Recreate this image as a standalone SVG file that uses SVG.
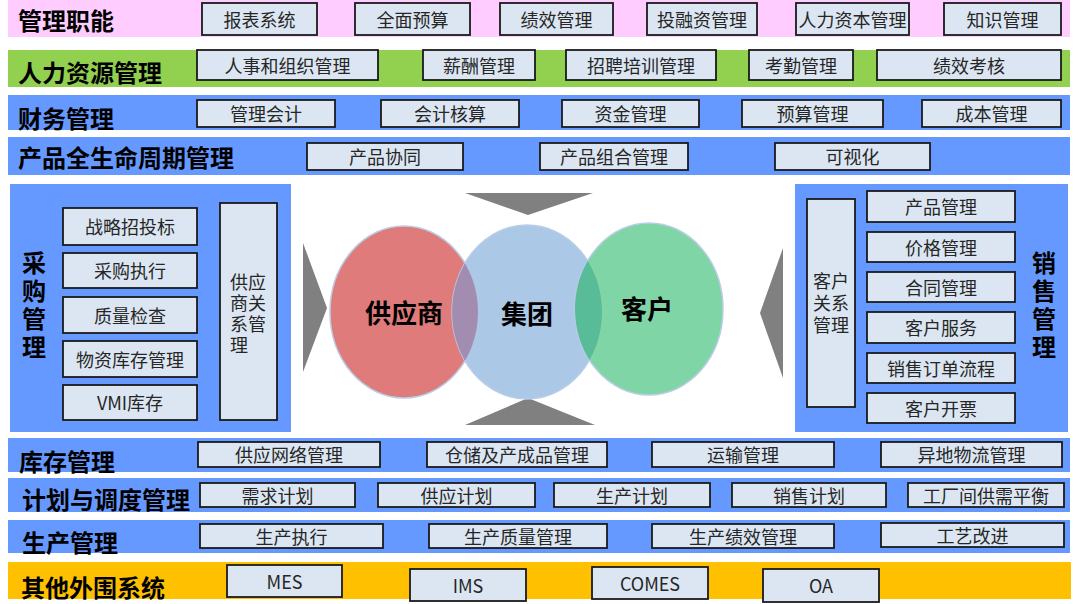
<svg xmlns="http://www.w3.org/2000/svg" width="1080" height="604" viewBox="0 0 1080 604">
<defs>
<style>
.pink{fill:#FFCCFF}
.green{fill:#92D050}
.blue{fill:#6699FF}
.yellow{fill:#FFC000}
.box{fill:#DCE6F2;stroke:#1a1a1a;stroke-width:1.8}
.t{font-family:"Noto Sans CJK SC","Microsoft YaHei",sans-serif;font-size:18px;fill:#262626;text-anchor:middle;dominant-baseline:central}
.tl{font-family:"Noto Sans CJK SC","Microsoft YaHei",sans-serif;font-size:18px;fill:#262626;text-anchor:start;dominant-baseline:central}
.title{font-family:"Noto Sans CJK SC","Microsoft YaHei",sans-serif;font-size:24px;font-weight:700;fill:#000;dominant-baseline:central}
.vt{font-family:"Noto Sans CJK SC","Microsoft YaHei",sans-serif;font-size:24px;font-weight:700;fill:#000;writing-mode:vertical-rl;text-orientation:upright;letter-spacing:4px}
.big{font-family:"Noto Sans CJK SC","Microsoft YaHei",sans-serif;font-size:26px;font-weight:700;fill:#000;text-anchor:middle;dominant-baseline:central}
.tri{fill:#808080}
</style>
<clipPath id="clipBlue"><ellipse cx="527" cy="312" rx="75" ry="87"/></clipPath>
</defs>
<rect width="1080" height="604" fill="#FFFFFF"/>

<!-- Row 1 管理职能 -->
<g id="row-mgmt">
<rect class="pink" x="8" y="0" width="1062" height="37"/>
<text class="title" x="18" y="19">管理职能</text>
<g id="n-baobiao"><rect class="box" x="202" y="3" width="115" height="32"/><text class="t" x="259.5" y="18.5">报表系统</text></g>
<g id="n-quanmian"><rect class="box" x="355" y="3" width="115" height="32"/><text class="t" x="412.5" y="18.5">全面预算</text></g>
<g id="n-jixiao"><rect class="box" x="500" y="3" width="113" height="32"/><text class="t" x="556.5" y="18.5">绩效管理</text></g>
<g id="n-tourong"><rect class="box" x="647" y="3" width="110" height="32"/><text class="t" x="702" y="18.5">投融资管理</text></g>
<g id="n-renliziben"><rect class="box" x="796" y="3" width="113" height="32"/><text class="t" x="852.5" y="18.5">人力资本管理</text></g>
<g id="n-zhishi"><rect class="box" x="944" y="3" width="117" height="32"/><text class="t" x="1002.5" y="18.5">知识管理</text></g>
</g>

<!-- Row 2 人力资源管理 -->
<g id="row-hr">
<rect class="green" x="8" y="50" width="1062" height="37"/>
<text class="title" x="18" y="71">人力资源管理</text>
<g id="n-renshi"><rect class="box" x="197" y="50" width="181" height="30"/><text class="t" x="287.5" y="64.5">人事和组织管理</text></g>
<g id="n-xinchou"><rect class="box" x="423" y="50" width="112" height="30"/><text class="t" x="479" y="64.5">薪酬管理</text></g>
<g id="n-zhaopin"><rect class="box" x="566" y="50" width="150" height="30"/><text class="t" x="641" y="64.5">招聘培训管理</text></g>
<g id="n-kaoqin"><rect class="box" x="749" y="50" width="104" height="30"/><text class="t" x="801" y="64.5">考勤管理</text></g>
<g id="n-jixiaokaohe"><rect class="box" x="877" y="50" width="184" height="30"/><text class="t" x="969" y="64.5">绩效考核</text></g>
</g>

<!-- Row 3 财务管理 -->
<g id="row-fin">
<rect class="blue" x="8" y="95" width="1062" height="35"/>
<text class="title" x="18" y="117">财务管理</text>
<g id="n-guanlikuaiji"><rect class="box" x="197" y="100" width="138" height="27"/><text class="t" x="266" y="113">管理会计</text></g>
<g id="n-kuaijihesuan"><rect class="box" x="381" y="100" width="138" height="27"/><text class="t" x="450" y="113">会计核算</text></g>
<g id="n-zijin"><rect class="box" x="562" y="100" width="137" height="27"/><text class="t" x="630.5" y="113">资金管理</text></g>
<g id="n-yusuan"><rect class="box" x="742" y="100" width="141" height="27"/><text class="t" x="812.5" y="113">预算管理</text></g>
<g id="n-chengben"><rect class="box" x="922" y="100" width="139" height="27"/><text class="t" x="991.5" y="113">成本管理</text></g>
</g>

<!-- Row 4 产品全生命周期管理 -->
<g id="row-plm">
<rect class="blue" x="8" y="137" width="1062" height="38"/>
<text class="title" x="18" y="156">产品全生命周期管理</text>
<g id="n-xietong"><rect class="box" x="307" y="143" width="156" height="27"/><text class="t" x="385" y="156">产品协同</text></g>
<g id="n-zuhe"><rect class="box" x="540" y="143" width="148" height="27"/><text class="t" x="614" y="156">产品组合管理</text></g>
<g id="n-keshihua"><rect class="box" x="775" y="143" width="155" height="27"/><text class="t" x="852.5" y="156">可视化</text></g>
</g>

<!-- Left panel 采购管理 -->
<g id="panel-purchase">
<rect class="blue" x="10" y="184" width="281" height="248"/>
<text class="vt" x="34" y="251">采购管理</text>
<g id="n-zhanlue"><rect class="box" x="63" y="208" width="134" height="37"/><text class="t" x="130" y="226">战略招投标</text></g>
<g id="n-caigouzhixing"><rect class="box" x="63" y="253" width="134" height="35"/><text class="t" x="130" y="270">采购执行</text></g>
<g id="n-zhiliang"><rect class="box" x="63" y="297" width="134" height="36"/><text class="t" x="130" y="314.5">质量检查</text></g>
<g id="n-wuzi"><rect class="box" x="63" y="341" width="134" height="36"/><text class="t" x="130" y="358.5">物资库存管理</text></g>
<g id="n-vmi"><rect class="box" x="63" y="385" width="134" height="35"/><text class="t" x="130" y="402">VMI库存</text></g>
<g id="n-gongyingshang"><rect class="box" x="220" y="203" width="57" height="217"/>
<text class="tl"><tspan x="230" y="281">供应</tspan><tspan x="230" y="302">商关</tspan><tspan x="230" y="323">系管</tspan><tspan x="230" y="344">理</tspan></text></g>
</g>

<!-- Right panel 销售管理 -->
<g id="panel-sales">
<rect class="blue" x="795" y="184" width="273" height="248"/>
<g id="n-kehuguanxi"><rect class="box" x="807" y="199" width="48" height="208"/>
<text class="t"><tspan x="831" y="280">客户</tspan><tspan x="831" y="302">关系</tspan><tspan x="831" y="324">管理</tspan></text></g>
<g id="n-chanpin"><rect class="box" x="867" y="191" width="148" height="31"/><text class="t" x="941" y="206">产品管理</text></g>
<g id="n-jiage"><rect class="box" x="867" y="232" width="148" height="30"/><text class="t" x="941" y="246.5">价格管理</text></g>
<g id="n-hetong"><rect class="box" x="867" y="272" width="148" height="30"/><text class="t" x="941" y="286.5">合同管理</text></g>
<g id="n-kehufuwu"><rect class="box" x="867" y="312" width="148" height="31"/><text class="t" x="941" y="327">客户服务</text></g>
<g id="n-dingdan"><rect class="box" x="867" y="353" width="148" height="30"/><text class="t" x="941" y="367.5">销售订单流程</text></g>
<g id="n-kaipiao"><rect class="box" x="867" y="393" width="148" height="30"/><text class="t" x="941" y="407.5">客户开票</text></g>
<text class="vt" x="1044" y="251">销售管理</text>
</g>

<!-- Connectors (flow triangles) -->
<g id="connectors">
<polygon class="tri" points="465,193 593,193 528,215"/>
<polygon class="tri" points="465,425 595,425 528,398"/>
<polygon class="tri" points="303,243 327,308 303,372"/>
<polygon class="tri" points="783,248 760,313 783,378"/>
</g>

<!-- Center circles -->
<g id="n-supplier">
<ellipse cx="404" cy="312" rx="74" ry="86" fill="#E07B7B" stroke="#B9CDE6" stroke-width="1.5"/>
</g>
<g id="n-group">
<ellipse cx="527" cy="312" rx="75" ry="87" fill="#ABC9E6" stroke="#B9CDE6" stroke-width="1.5"/>
<ellipse cx="404" cy="312" rx="74" ry="86" fill="#A28DB0" clip-path="url(#clipBlue)"/>
</g>
<g id="n-customer">
<ellipse cx="649" cy="309" rx="74" ry="86" fill="#7FD5A6" stroke="#B9CDE6" stroke-width="1.5"/>
<ellipse cx="649" cy="309" rx="74" ry="86" fill="#57BC97" clip-path="url(#clipBlue)"/>
</g>
<g id="labels-center">
<text class="big" x="404" y="311">供应商</text>
<text class="big" x="527" y="312">集团</text>
<text class="big" x="647" y="307">客户</text>
</g>

<!-- Row 库存管理 -->
<g id="row-inv">
<rect class="blue" x="8" y="438" width="1062" height="34"/>
<text class="title" x="19" y="460">库存管理</text>
<g id="n-gongyingwangluo"><rect class="box" x="198" y="442" width="182" height="25"/><text class="t" x="289" y="454">供应网络管理</text></g>
<g id="n-cangchu"><rect class="box" x="427" y="442" width="180" height="25"/><text class="t" x="517" y="454">仓储及产成品管理</text></g>
<g id="n-yunshu"><rect class="box" x="652" y="442" width="182" height="25"/><text class="t" x="743" y="454">运输管理</text></g>
<g id="n-yidi"><rect class="box" x="881" y="442" width="181" height="25"/><text class="t" x="971.5" y="454">异地物流管理</text></g>
</g>

<!-- Row 计划与调度管理 -->
<g id="row-plan">
<rect class="blue" x="8" y="478" width="1062" height="34"/>
<text class="title" x="22" y="498">计划与调度管理</text>
<g id="n-xuqiu"><rect class="box" x="200" y="483" width="155" height="24"/><text class="t" x="277.5" y="494.5">需求计划</text></g>
<g id="n-gongyingjihua"><rect class="box" x="378" y="483" width="157" height="24"/><text class="t" x="456.5" y="494.5">供应计划</text></g>
<g id="n-shengchanjihua"><rect class="box" x="554" y="483" width="156" height="24"/><text class="t" x="632" y="494.5">生产计划</text></g>
<g id="n-xiaoshoujihua"><rect class="box" x="732" y="483" width="154" height="24"/><text class="t" x="809" y="494.5">销售计划</text></g>
<g id="n-gongchang"><rect class="box" x="908" y="483" width="156" height="24"/><text class="t" x="986" y="494.5">工厂间供需平衡</text></g>
</g>

<!-- Row 生产管理 -->
<g id="row-prod">
<rect class="blue" x="8" y="520" width="1062" height="33"/>
<text class="title" x="22" y="541">生产管理</text>
<g id="n-zhixing"><rect class="box" x="200" y="524" width="183" height="24"/><text class="t" x="291.5" y="535.5">生产执行</text></g>
<g id="n-zhiliangguanli"><rect class="box" x="429" y="524" width="178" height="24"/><text class="t" x="518" y="535.5">生产质量管理</text></g>
<g id="n-jixiaoguanli"><rect class="box" x="652" y="524" width="182" height="24"/><text class="t" x="743" y="535.5">生产绩效管理</text></g>
<g id="n-gongyi"><rect class="box" x="881" y="523" width="183" height="24"/><text class="t" x="972.5" y="534.5">工艺改进</text></g>
</g>

<!-- Row 其他外围系统 -->
<g id="row-other">
<rect class="yellow" x="8" y="562" width="1063" height="37"/>
<text class="title" x="21" y="586">其他外围系统</text>
<g id="n-mes"><rect class="box" x="227" y="565" width="115" height="32"/><text class="t" x="284.5" y="580.5">MES</text></g>
<g id="n-ims"><rect class="box" x="410" y="569" width="116" height="32"/><text class="t" x="468" y="584.5">IMS</text></g>
<g id="n-comes"><rect class="box" x="592" y="567" width="116" height="32"/><text class="t" x="650" y="582.5">COMES</text></g>
<g id="n-oa"><rect class="box" x="763" y="569" width="116" height="33"/><text class="t" x="821" y="585">OA</text></g>
</g>
</svg>
